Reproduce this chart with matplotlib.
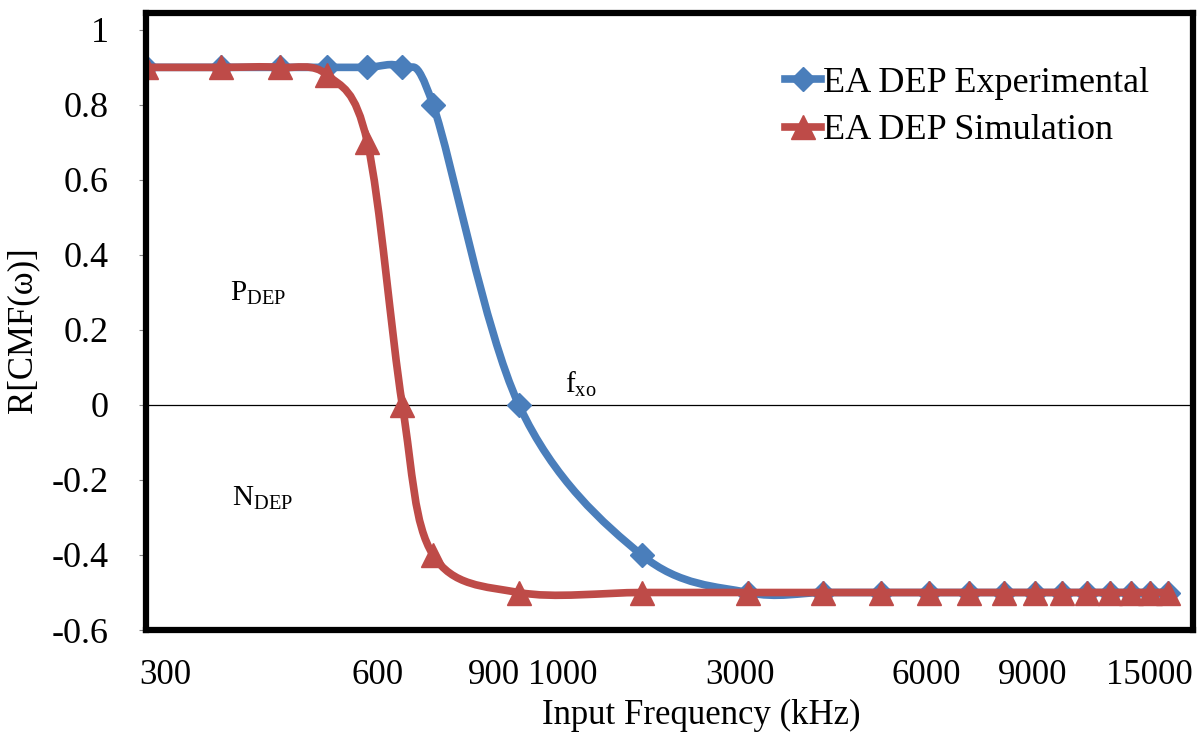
import matplotlib
matplotlib.use('Agg')
import matplotlib.pyplot as plt
import numpy as np
from matplotlib.path import Path
from matplotlib.patches import PathPatch
from matplotlib.lines import Line2D

plt.rcParams['font.family'] = 'Liberation Serif'
plt.rcParams['mathtext.fontset'] = 'custom'
plt.rcParams['mathtext.rm'] = 'Liberation Serif'

# data (kHz, R[CMF])
freq = [300, 400, 500, 600, 700, 800, 900, 1250, 2000, 3000, 4000, 5000,
        6000, 7000, 8000, 9000, 10000, 11000, 12000, 13000, 14000, 15000]
experimental = [0.9, 0.9, 0.9, 0.9, 0.9, 0.9, 0.8, 0.0, -0.4, -0.5, -0.5, -0.5,
                -0.5, -0.5, -0.5, -0.5, -0.5, -0.5, -0.5, -0.5, -0.5, -0.5]
simulation = [0.9, 0.9, 0.9, 0.88, 0.7, 0.0, -0.4, -0.5, -0.5, -0.5, -0.5, -0.5,
              -0.5, -0.5, -0.5, -0.5, -0.5, -0.5, -0.5, -0.5, -0.5, -0.5]

yticks = [-0.6, -0.4, -0.2, 0, 0.2, 0.4, 0.6, 0.8, 1]
ytick_labels = ['-0.6', '-0.4', '-0.2', '0', '0.2', '0.4', '0.6', '0.8', '1']
# the x labels are free text boxes in the original, placed by hand
xtick_labels = ['300', '600', '900', '1000', '3000', '6000', '9000', '15000']
xtick_frac = [0.018, 0.221, 0.332, 0.398, 0.567, 0.745, 0.847, 0.958]

blue = '#4A7EBB'
red = '#BE4B48'


def smooth_path(xs, ys):
    # excel style smoothed line: catmull-rom bezier in (log x, y)
    pts = np.column_stack([np.log10(xs), np.asarray(ys, float)])
    n = len(pts)
    verts = [pts[0]]
    codes = [Path.MOVETO]
    for i in range(n - 1):
        p0 = pts[max(i - 1, 0)]
        p1 = pts[i]
        p2 = pts[i + 1]
        p3 = pts[min(i + 2, n - 1)]
        verts += [p1 + (p2 - p0) / 6, p2 - (p3 - p1) / 6, p2]
        codes += [Path.CURVE4] * 3
    verts = np.array(verts)
    verts[:, 0] = 10 ** verts[:, 0]
    return Path(verts, codes)


fig = plt.figure(figsize=(12.03, 7.33), dpi=100)
ax = fig.add_axes([0.1214, 0.1405, 0.8703, 0.8418])
ax.set_xscale('log')
ax.set_xlim(300, 16500)
ax.set_ylim(-0.6, 1.045)

ax.axhline(0, color='black', lw=0.9, zorder=1)

for ys, col, mk, ms in [(experimental, blue, 'D', 12), (simulation, red, '^', 17)]:
    ax.add_patch(PathPatch(smooth_path(freq, ys), facecolor='none', edgecolor=col,
                           lw=5.5, capstyle='round', joinstyle='round', zorder=2))
    ax.plot(freq, ys, linestyle='none', marker=mk, ms=ms, color=col, zorder=2)

for s in ax.spines.values():
    s.set_linewidth(4.5)
    s.set_color('black')

ax.set_yticks(yticks)
ax.set_yticklabels(ytick_labels, fontsize=26)
ax.tick_params(axis='y', direction='out', length=5, width=0.8, color='#888888', pad=22)
ax.xaxis.set_major_locator(matplotlib.ticker.NullLocator())
ax.xaxis.set_minor_locator(matplotlib.ticker.NullLocator())

for lab, xf in zip(xtick_labels, xtick_frac):
    ax.text(xf, -0.088, lab, transform=ax.transAxes, ha='center', va='baseline', fontsize=25)

ax.text(0.530, -0.152, 'Input Frequency (kHz)', transform=ax.transAxes,
        ha='center', va='baseline', fontsize=25)
ax.text(-0.118, 0.486, 'R[CMF(ω)]', transform=ax.transAxes, rotation=90,
        ha='center', va='center', fontsize=25)

ax.text(0.08, 0.535, r'P$_{\mathregular{DEP}}$', transform=ax.transAxes, fontsize=21)
ax.text(0.082, 0.203, r'N$_{\mathregular{DEP}}$', transform=ax.transAxes, fontsize=21)
ax.text(0.400, 0.386, r'f$_{\mathregular{xo}}$', transform=ax.transAxes, fontsize=21)

handles = [Line2D([], [], color=blue, lw=5.5, marker='D', ms=12),
           Line2D([], [], color=red, lw=5.5, marker='^', ms=17)]
ax.legend(handles, ['EA DEP Experimental', 'EA DEP Simulation'], loc='upper left',
          bbox_to_anchor=(0.610, 0.913), frameon=False, fontsize=26,
          handlelength=1.0, handletextpad=0.05, labelspacing=0.39,
          borderpad=0, borderaxespad=0)

fig.savefig('out.png', dpi=100)
